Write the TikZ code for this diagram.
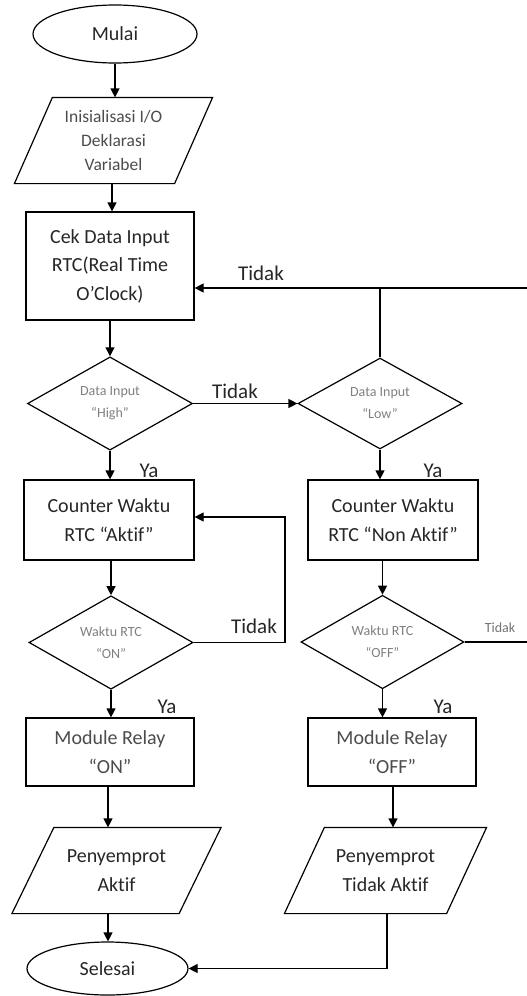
\documentclass[tikz,border=0pt]{standalone}
\usepackage{fontspec}
\setmainfont[Ligatures=NoCommon]{Carlito}
\usetikzlibrary{shapes.geometric,arrows.meta}
\begin{document}
\begin{tikzpicture}[x=1pt,y=-1pt,
  line width=1.2pt,
  arr/.style={-{Triangle[length=9pt,width=9pt]}},
  base/.style={font=\fontsize{20}{28.5}\selectfont, align=center, text=black!85, inner sep=0pt},
  term/.style={base, ellipse, draw},
  proc/.style={base, rectangle, draw},
  iobody/.style={base, rectangle, draw=none},
  dec/.style={diamond, draw, inner sep=0pt, align=center, text=black!50, font=\fontsize{14}{22}\selectfont},
  lbl/.style={font=\fontsize{21}{24}\selectfont, text=black!85, inner sep=0pt},
  slbl/.style={font=\fontsize{14}{16}\selectfont, text=black!55, inner sep=0pt}
]
\useasboundingbox (0,0) rectangle (527,996);

% nodes
\node[term, minimum width=164, minimum height=58] (mulai) at (115,34) {Mulai};
\node[iobody, minimum width=159, minimum height=85, font=\fontsize{17.5}{24}\selectfont, text=black!70] (init) at (113.5,140.5) {Inisialisasi I/O\\Deklarasi\\Variabel};
\draw ([xshift=19]init.north west) -- ([xshift=19]init.north east) -- ([xshift=-19]init.south east) -- ([xshift=-19]init.south west) -- cycle;
\node[proc, minimum width=168, minimum height=108] (cek) at (110,266) {Cek Data Input\\RTC(Real Time\\O’Clock)};
\node[dec, minimum width=165, minimum height=89] (high) at (110,403.5) {Data Input\\“High”};
\node[dec, minimum width=164, minimum height=89] (low) at (380,403.5) {Data Input\\“Low”};
\node[proc, minimum width=170, minimum height=80] (cnta) at (109,520) {Counter Waktu\\RTC “Aktif”};
\node[proc, minimum width=170, minimum height=80] (cntn) at (393,520) {Counter Waktu\\RTC “Non Aktif”};
\node[dec, minimum width=164, minimum height=89] (on) at (111,642.5) {Waktu RTC\\“ON”};
\node[dec, minimum width=163, minimum height=90] (off) at (382.5,642) {Waktu RTC\\“OFF”};
\node[proc, minimum width=168, minimum height=68, text=black!70] (modon) at (110,752) {Module Relay\\“ON”};
\node[proc, minimum width=168, minimum height=68, text=black!70] (modoff) at (392,752) {Module Relay\\“OFF”};
\node[iobody, minimum width=166, minimum height=85] (pona) at (116.5,870.5) {Penyemprot\\Aktif};
\draw ([xshift=21]pona.north west) -- ([xshift=21]pona.north east) -- ([xshift=-21]pona.south east) -- ([xshift=-21]pona.south west) -- cycle;
\node[iobody, minimum width=161, minimum height=85] (poff) at (385.5,870.5) {Penyemprot\\Tidak Aktif};
\draw ([xshift=20]poff.north west) -- ([xshift=20]poff.north east) -- ([xshift=-20]poff.south east) -- ([xshift=-20]poff.south west) -- cycle;
\node[term, minimum width=161, minimum height=53] (selesai) at (107.5,968.5) {Selesai};

\coordinate (edgetop) at (527,288);
\coordinate (edgeoff) at (527,642);

% connectors
\draw[arr] (mulai.south) -- (mulai.south |- init.north);
\draw[arr] ([xshift=-1.5]init.south) -- ([xshift=-1.5]init.south |- cek.north);
\draw[arr] (cek.south) -- (high.north);
\draw[arr] (high.east) -- (low.west);
\draw (low.north) -- (low.north |- edgetop);
\draw[arr] (edgetop) -- (cek.east |- edgetop);
\draw[arr] (high.south) -- (high.south |- cnta.north);
\draw[arr] (low.south) -- (low.south |- cntn.north);
\draw[arr] (cnta.south -| on.north) -- (on.north);
\draw[arr] (cntn.south -| off.north) -- (off.north);
\draw[arr] (on.east) -- (285,642.5) |- (cnta.east |- 0,517);
\draw (off.east) -- (edgeoff);
\draw[arr] (on.south) -- (on.south |- modon.north);
\draw[arr] (off.south) -- (off.south |- modoff.north);
\draw[arr] (modon.south -| 108,0) -- (108,0 |- pona.north);
\draw[arr] (modoff.south -| 393,0) -- (393,0 |- poff.north);
\draw[arr] (pona.south -| 108,0) -- (108,0 |- selesai.north);
\draw[arr] (poff.south -| 387,0) |- (selesai.east);

% labels
\node[lbl] (t1) at (261,273) {Tidak};
\node[lbl] (t2) at (235,391) {Tidak};
\node[lbl] (y1) at (149,471) {Ya};
\node[lbl] (y2) at (433,471) {Ya};
\node[lbl] (t3) at (254,626) {Tidak};
\node[slbl] (t4) at (500,628) {Tidak};
\node[lbl] (y3) at (167,707) {Ya};
\node[lbl] (y4) at (443,707) {Ya};
\end{tikzpicture}
\end{document}
